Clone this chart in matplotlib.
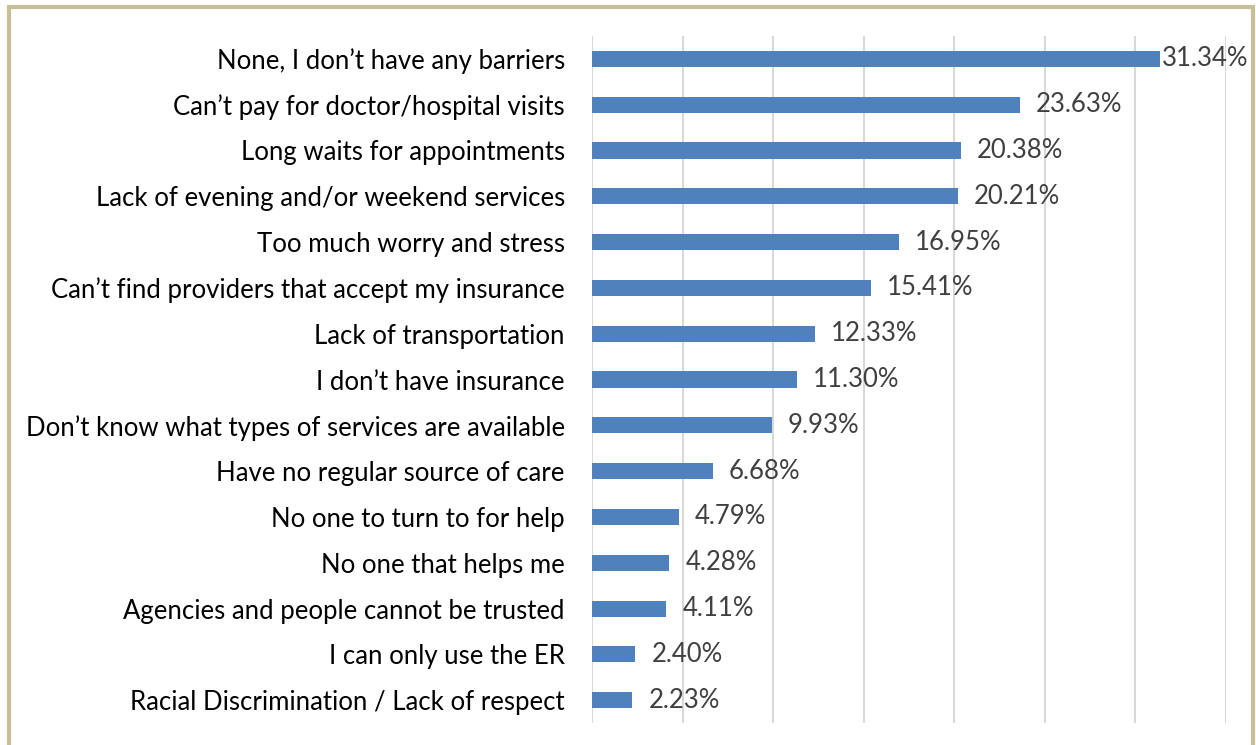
import numpy as np
import matplotlib.pyplot as plt
from matplotlib.patches import Rectangle

# barrieres a l'acces aux soins (pourcentages)
categories = [
    "None, I don\u2019t have any barriers",
    "Can\u2019t pay for doctor/hospital visits",
    "Long waits for appointments",
    "Lack of evening and/or weekend services",
    "Too much worry and stress",
    "Can\u2019t find providers that accept my insurance",
    "Lack of transportation",
    "I don\u2019t have insurance",
    "Don\u2019t know what types of services are available",
    "Have no regular source of care",
    "No one to turn to for help",
    "No one that helps me",
    "Agencies and people cannot be trusted",
    "I can only use the ER",
    "Racial Discrimination / Lack of respect",
]
values = [31.34, 23.63, 20.38, 20.21, 16.95, 15.41, 12.33, 11.30,
          9.93, 6.68, 4.79, 4.28, 4.11, 2.40, 2.23]

plt.rcParams['font.family'] = ['Lato', 'DejaVu Sans']

fig = plt.figure(figsize=(12.56, 7.45), dpi=100)
ax = fig.add_axes([0.4713, 0.0295, 0.5048, 0.9222])

y = np.arange(len(categories))
ax.barh(y, values, height=0.35, color='#4F81BD', zorder=3)

for yi, v in zip(y, values):
    # le label du max est colle a la barre pour rester dans le cadre
    off = 1.5 if v == max(values) else 11.5
    ax.annotate(f"{v:.2f}%", xy=(v, yi), xytext=(off, 0), textcoords='offset points',
                va='center', ha='left', fontsize=18.5, color='#404040', zorder=4)

ax.set_yticks(y)
ax.set_yticklabels(categories, fontsize=18.5, color='black')
ax.set_ylim(len(categories) - 0.5, -0.5)
ax.set_xlim(0, 35)
ax.set_xticks(np.arange(0, 36, 5))
ax.xaxis.grid(True, color='#D9D9D9', linewidth=1.5, zorder=0)
ax.tick_params(axis='x', which='both', bottom=False, labelbottom=False)
ax.tick_params(axis='y', which='both', left=False, pad=16)
for s in ax.spines.values():
    s.set_visible(False)

# cadre beige autour de la figure
fig.patches.append(Rectangle((0.0075, -0.01), 0.9905, 1.0, transform=fig.transFigure,
                             fill=False, edgecolor='#C9BF96', linewidth=3))

plt.savefig("out.png", dpi=100)
